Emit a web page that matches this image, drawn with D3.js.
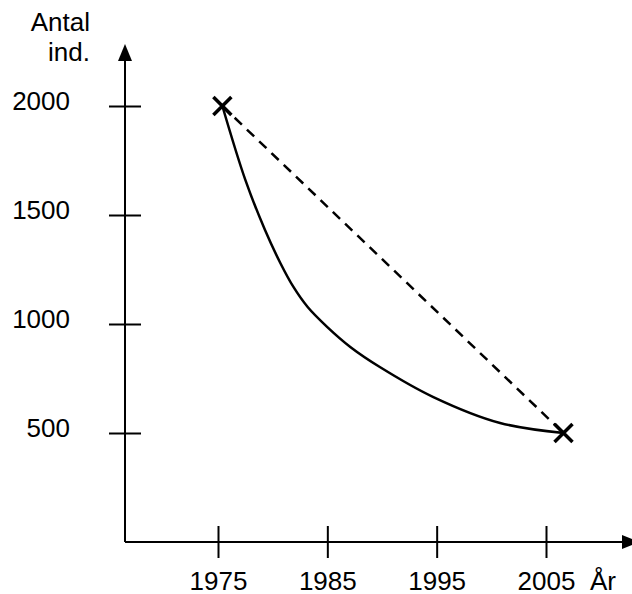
<!DOCTYPE html>
<html><head><meta charset="utf-8">
<script src="https://cdn.jsdelivr.net/npm/d3@7"></script>
<style>html,body{margin:0;padding:0;background:#fff;overflow:hidden}</style>
</head><body>
<svg id="c" width="632" height="594"></svg>
<script>
// Data
const curveYears = [1975.4, 1977.5, 1979.3, 1980.7, 1981.9, 1983.2, 1985.0, 1987.1, 1989.8, 1994.7, 2000.8, 2006.6];
const curveValues = [2000, 1661, 1431, 1280, 1170, 1078, 986, 895, 803, 665, 546, 500];
const markerYears = [1975.4, 2006.6];
const markerValues = [2000, 500];
const xTicks = [1975, 1985, 1995, 2005];
const yTicks = [500, 1000, 1500, 2000];
const xAxisLabel = "År";
const yAxisLabel = ["Antal", "ind."];

const svg = d3.select("#c");
const font = "'Liberation Sans', Arial, sans-serif";
const fs = 26;
const x = d3.scaleLinear().domain([1975, 2005]).range([218, 546]);
const y = d3.scaleLinear().domain([0, 2000]).range([542, 106]);
const x0 = 125, y0 = y(0);

// axes lines
svg.append("line").attr("x1", x0).attr("y1", y0).attr("x2", x0).attr("y2", 58)
  .attr("stroke", "#000").attr("stroke-width", 2);
svg.append("path").attr("d", `M${x0},44 L${x0-7},61 L${x0+7},61 Z`).attr("fill", "#000");
svg.append("line").attr("x1", x0).attr("y1", y0).attr("x2", 624).attr("y2", y0)
  .attr("stroke", "#000").attr("stroke-width", 2);
svg.append("path").attr("d", `M640,${y0} L622,${y0-7} L622,${y0+7} Z`).attr("fill", "#000");

// y axis ticks
const ya = d3.axisLeft(y).tickValues(yTicks).tickSize(0).tickFormat(d3.format("d"));
const yg = svg.append("g").attr("transform", `translate(${x0},0)`).call(ya);
yg.select(".domain").remove();
yg.selectAll(".tick line").attr("x1", -16).attr("x2", 16).attr("stroke", "#000").attr("stroke-width", 2);
yg.selectAll(".tick text").attr("x", -55).attr("dy", 0).attr("y", 3)
  .attr("font-family", font).attr("font-size", fs).attr("fill", "#000").attr("text-anchor", "end");

// x axis ticks
const xa = d3.axisBottom(x).tickValues(xTicks).tickSize(0).tickFormat(d3.format("d"));
const xg = svg.append("g").attr("transform", `translate(0,${y0})`).call(xa);
xg.select(".domain").remove();
xg.selectAll(".tick line").attr("y1", -16).attr("y2", 16).attr("stroke", "#000").attr("stroke-width", 2);
xg.selectAll(".tick text").attr("y", 48).attr("dy", 0)
  .attr("font-family", font).attr("font-size", fs).attr("fill", "#000").attr("text-anchor", "middle");

// axis labels
svg.append("text").attr("x", 590).attr("y", 590).attr("font-family", font).attr("font-size", fs)
  .attr("fill", "#000").text(xAxisLabel);
svg.selectAll(".ylab").data(yAxisLabel).join("text").attr("class", "ylab")
  .attr("x", 90).attr("y", (d, i) => 31 + i * 30).attr("text-anchor", "end")
  .attr("font-family", font).attr("font-size", fs).attr("fill", "#000").text(d => d);

// dashed line
const pts = markerYears.map((d, i) => [x(d), y(markerValues[i])]);
svg.append("path").attr("d", d3.line()(pts)).attr("fill", "none")
  .attr("stroke", "#000").attr("stroke-width", 2.5).attr("stroke-dasharray", "10,7");

// curve
const cpts = curveYears.map((d, i) => [x(d), y(curveValues[i])]);
svg.append("path").attr("d", d3.line().curve(d3.curveCatmullRom.alpha(0.5))(cpts)).attr("fill", "none")
  .attr("stroke", "#000").attr("stroke-width", 2.5);

// X markers
const s = 9;
svg.selectAll(".mk").data(pts).join("path").attr("class", "mk")
  .attr("d", d => `M${d[0]-s},${d[1]-s}L${d[0]+s},${d[1]+s}M${d[0]-s},${d[1]+s}L${d[0]+s},${d[1]-s}`)
  .attr("stroke", "#000").attr("stroke-width", 3.5).attr("fill", "none");
</script>
</body></html>
